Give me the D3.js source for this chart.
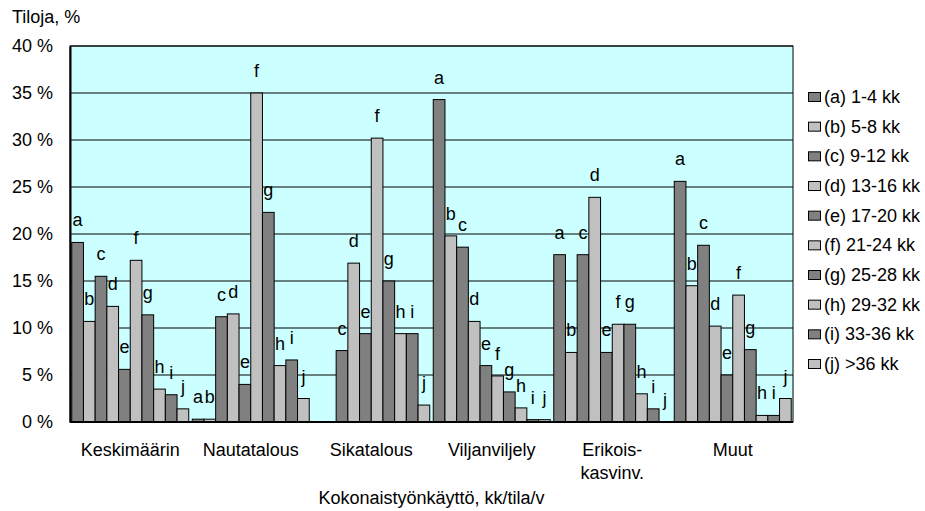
<!DOCTYPE html>
<html>
<head>
<meta charset="utf-8">
<script src="https://cdn.jsdelivr.net/npm/d3@7"></script>
<style>
  html, body { margin: 0; padding: 0; background: #fff; }
  text { font-family: "Liberation Sans", Arial, sans-serif; }
</style>
</head>
<body>
<svg id="chart" width="925" height="511"></svg>
<script>
// ---- data ----
const categories = ["Keskimäärin", "Nautatalous", "Sikatalous", "Viljanviljely", "Erikois-\nkasvinv.", "Muut"];
const seriesKeys = ["a", "b", "c", "d", "e", "f", "g", "h", "i", "j"];
const seriesNames = ["(a) 1-4 kk", "(b) 5-8 kk", "(c) 9-12 kk", "(d) 13-16 kk", "(e) 17-20 kk",
                     "(f) 21-24 kk", "(g) 25-28 kk", "(h) 29-32 kk", "(i) 33-36 kk", "(j) >36 kk"];
const keskimaarin   = [19.1, 10.7, 15.5, 12.3, 5.6, 17.2, 11.4, 3.5, 2.9, 1.4];
const nautatalous   = [0.3, 0.3, 11.2, 11.5, 4.0, 35.0, 22.3, 6.0, 6.6, 2.5];
const sikatalous    = [0, 0, 7.6, 16.9, 9.4, 30.2, 15.0, 9.4, 9.4, 1.8];
const viljanviljely = [34.3, 19.8, 18.6, 10.7, 6.0, 4.9, 3.2, 1.5, 0.25, 0.25];
const erikois       = [17.8, 7.4, 17.8, 23.9, 7.4, 10.4, 10.4, 3.0, 1.4, 0];
const muut          = [25.6, 14.5, 18.8, 10.2, 5.0, 13.5, 7.7, 0.7, 0.7, 2.5];
// which bars carry a letter label (Sikatalous a/b have none)
const showLabel = [
  [1,1,1,1,1,1,1,1,1,1],
  [1,1,1,1,1,1,1,1,1,1],
  [0,0,1,1,1,1,1,1,1,1],
  [1,1,1,1,1,1,1,1,1,1],
  [1,1,1,1,1,1,1,1,1,1],
  [1,1,1,1,1,1,1,1,1,1]
];
const yTicks = [0, 5, 10, 15, 20, 25, 30, 35, 40];
const yTitle = "Tiloja, %";
const xTitle = "Kokonaistyönkäyttö, kk/tila/v";
const allValues = [keskimaarin, nautatalous, sikatalous, viljanviljely, erikois, muut];

// ---- layout ----
const plot = { left: 70, right: 793, top: 46, bottom: 422 };
const colors = ["#808080", "#c0c0c0"];
const FS = 18;

const svg = d3.select("#chart");

const x0 = d3.scaleBand().domain(categories).range([plot.left, plot.right]).padding(0);
const x1 = d3.scaleBand().domain(seriesKeys).range([0, x0.bandwidth()]).paddingInner(0).paddingOuter(0.15);
const y = d3.scaleLinear().domain([0, 40]).range([plot.bottom, plot.top]);

// background
svg.append("rect")
  .attr("x", plot.left).attr("y", plot.top)
  .attr("width", plot.right - plot.left).attr("height", plot.bottom - plot.top)
  .attr("fill", "#ccffff");

// gridlines
svg.append("g").selectAll("line").data(yTicks.filter(d => d > 0)).join("line")
  .attr("x1", plot.left).attr("x2", plot.right)
  .attr("y1", d => y(d)).attr("y2", d => y(d))
  .attr("stroke", "#000").attr("stroke-width", 1);

// bars
const groups = svg.append("g").selectAll("g").data(categories).join("g")
  .attr("transform", d => `translate(${x0(d)},0)`);

groups.each(function(cat, ci) {
  const g = d3.select(this);
  const vals = allValues[ci];
  g.selectAll("rect").data(seriesKeys.map((k, i) => ({ k, i, v: vals[i] })).filter(d => d.v > 0)).join("rect")
    .attr("x", d => x1(d.k))
    .attr("y", d => y(d.v))
    .attr("width", x1.bandwidth())
    .attr("height", d => y(0) - y(d.v))
    .attr("fill", d => colors[d.i % 2])
    .attr("stroke", "#000").attr("stroke-width", 1);
  g.selectAll("text").data(seriesKeys.map((k, i) => ({ k, i, v: vals[i] })).filter(d => showLabel[ci][d.i])).join("text")
    .attr("x", d => x1(d.k) + x1.bandwidth() / 2)
    .attr("y", d => y(d.v) - 16)
    .attr("text-anchor", "middle")
    .attr("font-size", FS)
    .attr("fill", "#000")
    .text(d => d.k);
});

// plot border
svg.append("rect")
  .attr("x", plot.left).attr("y", plot.top)
  .attr("width", plot.right - plot.left).attr("height", plot.bottom - plot.top)
  .attr("fill", "none").attr("stroke", "#000").attr("stroke-width", 1);

// axes
const yAxis = d3.axisLeft(y).tickValues(yTicks).tickSize(0).tickPadding(17).tickFormat(d => d + " %");
const yg = svg.append("g").attr("transform", `translate(${plot.left},0)`).call(yAxis);
yg.select(".domain").attr("stroke", "#000").attr("stroke-width", 2);
yg.selectAll("text").attr("font-size", FS).attr("font-family", "Liberation Sans, Arial, sans-serif").attr("fill", "#000");

svg.append("line")
  .attr("x1", plot.left).attr("x2", plot.right)
  .attr("y1", plot.bottom).attr("y2", plot.bottom)
  .attr("stroke", "#000").attr("stroke-width", 2);

// category labels
svg.append("g").selectAll("text").data(categories).join("text")
  .attr("x", d => x0(d) + x0.bandwidth() / 2)
  .attr("y", 456)
  .attr("text-anchor", "middle")
  .attr("font-size", FS)
  .each(function(d) {
    const lines = d.split("\n");
    d3.select(this).selectAll("tspan").data(lines).join("tspan")
      .attr("x", x0(d) + x0.bandwidth() / 2)
      .attr("dy", (l, i) => i === 0 ? 0 : 23)
      .text(l => l);
  });

// titles
svg.append("text").attr("x", 12).attr("y", 23).attr("font-size", FS).text(yTitle);
svg.append("text").attr("x", (plot.left + plot.right) / 2).attr("y", 504)
  .attr("text-anchor", "middle").attr("font-size", FS).text(xTitle);

// legend
const legend = svg.append("g");
const legendY = d3.scalePoint().domain(seriesKeys).range([97, 364]);
seriesKeys.forEach((k, i) => {
  const yy = legendY(k);
  legend.append("rect")
    .attr("x", 808.5).attr("y", yy - 4.5)
    .attr("width", 12).attr("height", 9)
    .attr("fill", colors[i % 2]).attr("stroke", "#000").attr("stroke-width", 1);
  legend.append("text")
    .attr("x", 824).attr("y", yy + 6)
    .attr("font-size", FS)
    .text(seriesNames[i]);
});
</script>
</body>
</html>
